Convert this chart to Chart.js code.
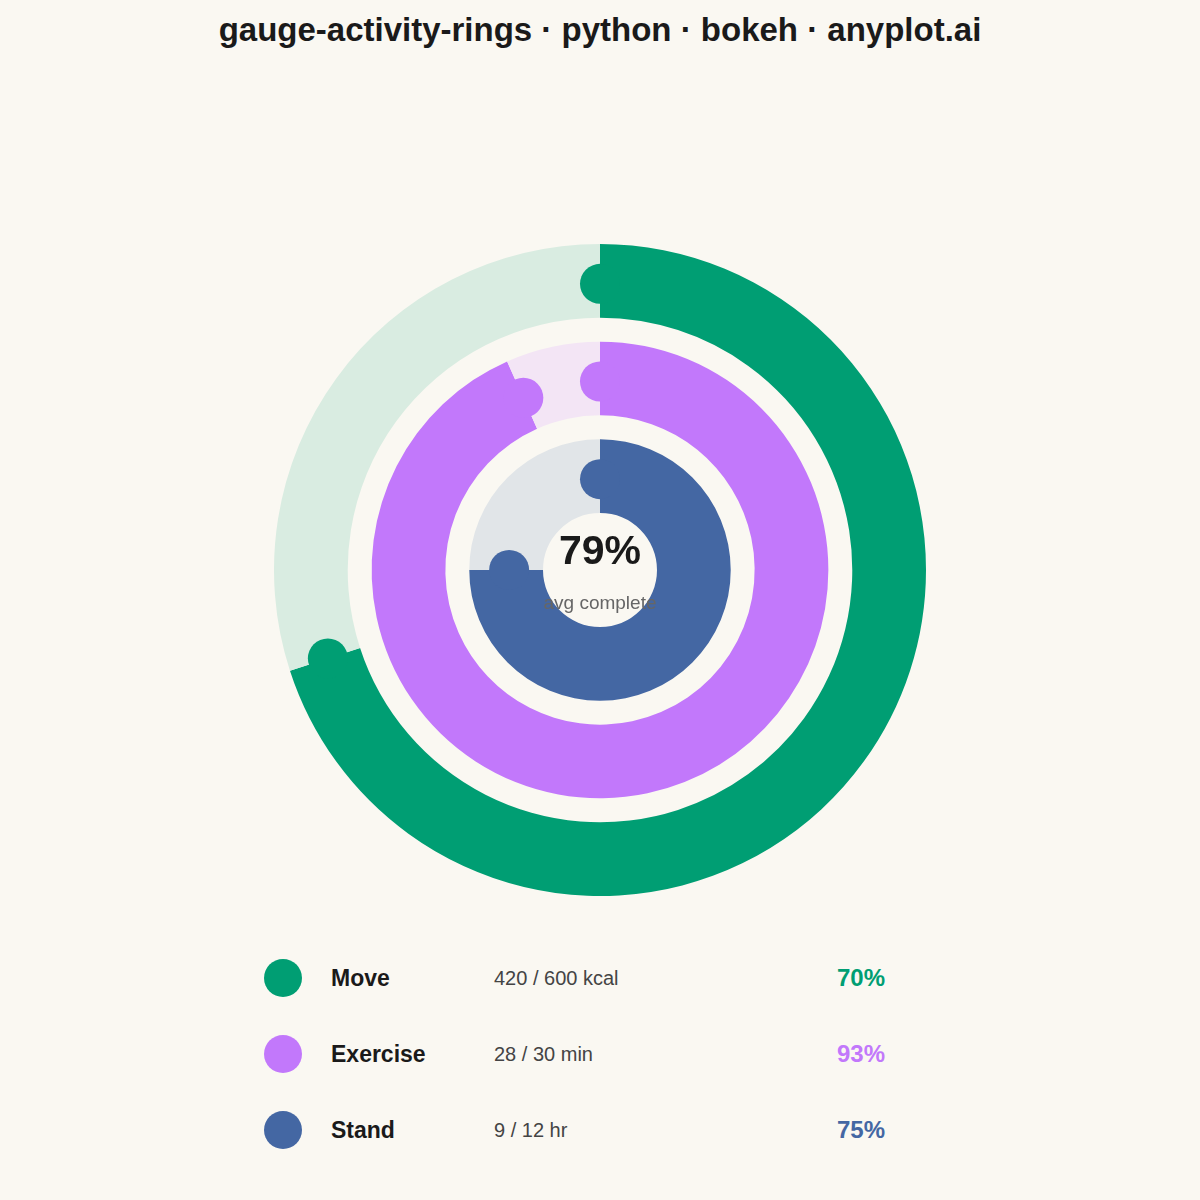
<!DOCTYPE html>
<html>
<head>
<meta charset="utf-8">
<script src="https://cdn.jsdelivr.net/npm/chart.js@4/dist/chart.umd.min.js"></script>
<style>
  html, body { margin: 0; padding: 0; }
  body {
    width: 1200px; height: 1200px; position: relative;
    background: #FAF8F2; font-family: "Liberation Sans", Arial, sans-serif;
    overflow: hidden;
  }
  h1 {
    position: absolute; top: 10px; left: 0; width: 1200px; margin: 0;
    text-align: center; font-size: 33px; font-weight: bold; color: #1a1a1a;
    line-height: 40px;
  }
  #wrap { position: absolute; left: 274px; top: 244px; width: 652px; height: 652px; }
  .row { position: absolute; left: 0; width: 1200px; height: 40px; }
  .dot { position: absolute; left: 264px; top: 1px; width: 38px; height: 38px; border-radius: 50%; }
  .name { position: absolute; left: 331px; top: 0; line-height: 40px; font-size: 23px; font-weight: bold; color: #1a1a1a; }
  .val { position: absolute; left: 494px; top: 0; line-height: 40px; font-size: 20px; color: #444; }
  .pct { position: absolute; right: 315px; top: 0; line-height: 40px; font-size: 24px; font-weight: bold; }
</style>
</head>
<body>
<h1>gauge-activity-rings · python · bokeh · anyplot.ai</h1>
<div id="wrap"><canvas id="rings" width="652" height="652"></canvas></div>
<div id="legend"></div>

<script>
// dados das metas de atividade
const labels = ['Move', 'Exercise', 'Stand'];
const current = [420, 28, 9];
const goals = [600, 30, 12];
const units = ['kcal', 'min', 'hr'];
const colors = ['#009E73', '#C278FB', '#4467A3'];
const trackColors = ['#D9ECE1', '#F3E5F5', '#E1E5E8'];

const percents = current.map((v, i) => v / goals[i] * 100);
const avg = percents.reduce((a, b) => a + b, 0) / percents.length;

// montar datasets (anel, espaço, anel, espaço, anel)
const datasets = [];
labels.forEach((name, i) => {
    datasets.push({
        label: name,
        data: [percents[i], 100 - percents[i]],
        backgroundColor: [colors[i], trackColors[i]],
        borderWidth: 0,
        weight: 74
    });
    if (i < labels.length - 1) {
        datasets.push({
            label: 'gap',
            data: [1],
            backgroundColor: ['rgba(0,0,0,0)'],
            borderWidth: 0,
            weight: 24
        });
    }
});

// plugin: texto central e pontas arredondadas
const ringExtras = {
    id: 'ringExtras',
    afterDatasetsDraw(chart) {
        const ctx = chart.ctx;
        ctx.save();
        chart.data.datasets.forEach((ds, di) => {
            const idx = labels.indexOf(ds.label);
            if (idx < 0) return;
            const arc = chart.getDatasetMeta(di).data[0];
            const r = (arc.innerRadius + arc.outerRadius) / 2 - 3;
            ctx.fillStyle = colors[idx];
            [arc.startAngle, arc.endAngle].forEach(a => {
                ctx.beginPath();
                ctx.arc(arc.x + r * Math.cos(a), arc.y + r * Math.sin(a), 20, 0, Math.PI * 2);
                ctx.fill();
            });
        });
        const arc0 = chart.getDatasetMeta(0).data[0];
        ctx.textAlign = 'center';
        ctx.textBaseline = 'middle';
        ctx.fillStyle = '#1a1a1a';
        ctx.font = 'bold 41px "Liberation Sans", Arial, sans-serif';
        ctx.fillText(Math.round(avg) + '%', arc0.x, arc0.y - 17);
        ctx.fillStyle = '#666';
        ctx.font = '19px "Liberation Sans", Arial, sans-serif';
        ctx.fillText('avg complete', arc0.x, arc0.y + 34);
        ctx.restore();
    }
};

new Chart(document.getElementById('rings'), {
    type: 'doughnut',
    data: { labels: ['done', 'left'], datasets: datasets },
    options: {
        responsive: false,
        animation: false,
        cutout: 57,
        plugins: {
            legend: { display: false },
            tooltip: { enabled: false }
        }
    },
    plugins: [ringExtras]
});

// legenda em HTML
const legend = document.getElementById('legend');
labels.forEach((name, i) => {
    const row = document.createElement('div');
    row.className = 'row';
    row.style.top = (958 + i * 76) + 'px';
    row.innerHTML =
        '<div class="dot" style="background:' + colors[i] + '"></div>' +
        '<div class="name">' + name + '</div>' +
        '<div class="val">' + current[i] + ' / ' + goals[i] + ' ' + units[i] + '</div>' +
        '<div class="pct" style="color:' + colors[i] + '">' + Math.round(percents[i]) + '%</div>';
    legend.appendChild(row);
});
</script>
</body>
</html>
